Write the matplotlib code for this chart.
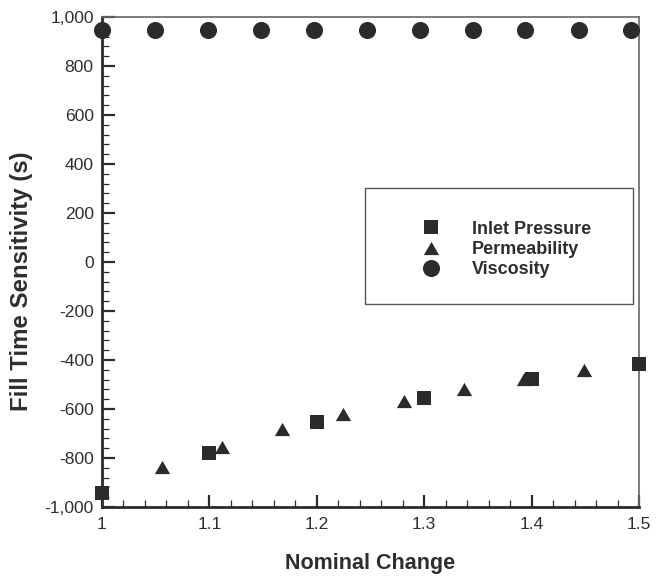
import matplotlib
matplotlib.use("Agg")
import matplotlib.pyplot as plt
from matplotlib.ticker import MultipleLocator, FuncFormatter
from matplotlib.patches import Rectangle
from matplotlib.path import Path

plt.rcParams['font.family'] = ['Liberation Sans', 'DejaVu Sans']

# Data
inlet_x = [1.0, 1.1, 1.2, 1.3, 1.4, 1.5]
inlet_y = [-942, -779, -654, -557, -479, -417]
perm_x = [1.056, 1.112, 1.168, 1.224, 1.281, 1.337, 1.393, 1.449]
perm_y = [-838, -754, -683, -620, -567, -519, -476, -440]
visc_x = [1.0, 1.049, 1.099, 1.148, 1.197, 1.247, 1.296, 1.345, 1.394, 1.444, 1.493]
visc_y = [945] * 11

labels = ["Inlet Pressure", "Permeability", "Viscosity"]

color = "#2b2b2b"
text_color = "#2e2e2e"

tri = Path([(0, 0.866), (-1, -0.866), (1, -0.866), (0, 0.866)],
           [Path.MOVETO, Path.LINETO, Path.LINETO, Path.CLOSEPOLY])

fig = plt.figure(figsize=(6.56, 5.77), dpi=100)
ax = fig.add_axes([102 / 656, 1 - 507 / 577, 537 / 656, 490 / 577])

ax.plot(inlet_x, inlet_y, linestyle='none', marker='s', markersize=9.4, color=color,
        markeredgewidth=0, label=labels[0], clip_on=False, zorder=3)
ax.plot(perm_x, perm_y, linestyle='none', marker=tri, markersize=11, color=color,
        markeredgewidth=0, label=labels[1], clip_on=False, zorder=3)
ax.plot(visc_x, visc_y, linestyle='none', marker='o', markersize=12.3, color=color,
        markeredgewidth=0, label=labels[2], clip_on=False, zorder=3)

ax.set_xlim(1.0, 1.5)
ax.set_ylim(-1000, 1000)
ax.xaxis.set_major_locator(MultipleLocator(0.1))
ax.xaxis.set_minor_locator(MultipleLocator(0.02))
ax.yaxis.set_major_locator(MultipleLocator(200))
ax.yaxis.set_minor_locator(MultipleLocator(40))

def xfmt(v, pos):
    return "1" if abs(v - 1.0) < 1e-9 else f"{v:.1f}"
ax.xaxis.set_major_formatter(FuncFormatter(xfmt))
ax.yaxis.set_major_formatter(FuncFormatter(lambda v, p: f"{int(round(v)):,}"))

ax.tick_params(axis='both', which='major', direction='in', length=9, width=1.6,
               color=color, labelsize=12.6, labelcolor=text_color,
               top=False, right=False)
ax.tick_params(axis='x', which='major', pad=7)
ax.tick_params(axis='y', which='major', pad=6)
ax.tick_params(axis='both', which='minor', direction='in', length=5, width=0.9,
               color=color, top=False, right=False)

for side in ['left', 'bottom']:
    ax.spines[side].set_linewidth(2.0)
    ax.spines[side].set_color(color)
for side in ['top', 'right']:
    ax.spines[side].set_linewidth(1.2)
    ax.spines[side].set_color('#666666')

ax.set_xlabel("Nominal Change", fontsize=15.5, fontweight='bold', color=text_color, labelpad=15)
ax.set_ylabel("Fill Time Sensitivity (s)", fontsize=17.3, fontweight='bold', color=text_color)
ax.yaxis.set_label_coords(-0.1285, 0.461)

# Legend frame
ax.add_patch(Rectangle((0.4898, 0.4143), 0.499, 0.2367, transform=ax.transAxes,
                       fill=True, facecolor='white', edgecolor='#555555', linewidth=1.0,
                       zorder=4, clip_on=False))
leg = ax.legend(loc='center left', bbox_to_anchor=(0.579, 0.5255),
                frameon=False, prop={'weight': 'bold', 'size': 13},
                borderpad=0, labelspacing=0.18, handletextpad=1.25, borderaxespad=0,
                handlelength=2.0, markerscale=1.0)
leg.set_zorder(5)
for t in leg.get_texts():
    t.set_color(text_color)

fig.savefig("out.png", dpi=100)
